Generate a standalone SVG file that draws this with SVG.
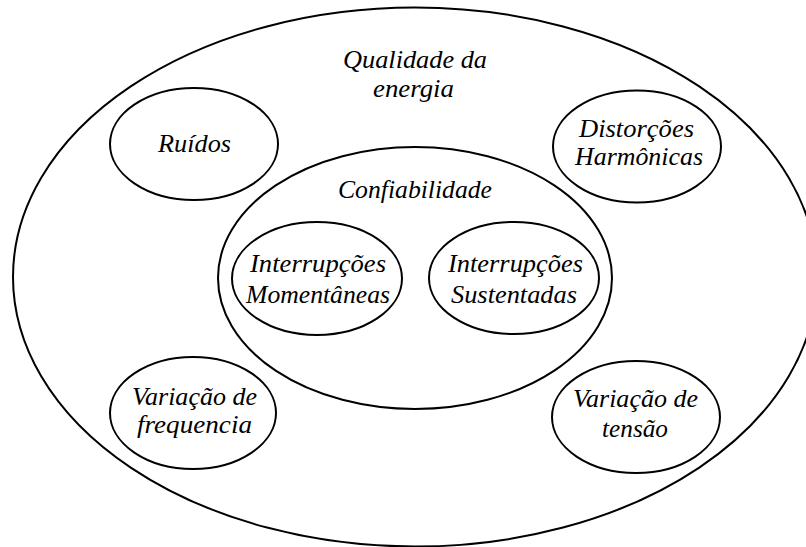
<svg xmlns="http://www.w3.org/2000/svg" width="806" height="547" viewBox="0 0 806 547">
<style>
.e{fill:none;stroke:#000;stroke-width:2}
</style>
<rect width="806" height="547" fill="#fff"/>
<g font-family="'Liberation Serif', 'DejaVu Serif', 'Times New Roman', Times, serif" font-style="italic" font-size="26" fill="#000" text-anchor="middle">
<g id="qualidade">
<ellipse class="e" cx="415" cy="277" rx="402" ry="269.5"/>
<text x="415" y="68" textLength="144" lengthAdjust="spacingAndGlyphs">Qualidade da</text>
<text x="413.5" y="97" textLength="81" lengthAdjust="spacingAndGlyphs">energia</text>
</g>
<g id="ruidos">
<ellipse class="e" cx="194" cy="144" rx="84" ry="56"/>
<text x="194.5" y="152" textLength="73" lengthAdjust="spacingAndGlyphs">Ruídos</text>
</g>
<g id="distorcoes">
<ellipse class="e" cx="637" cy="146.5" rx="84" ry="56"/>
<text x="636.5" y="137" textLength="115" lengthAdjust="spacingAndGlyphs">Distorções</text>
<text x="639" y="165" textLength="128" lengthAdjust="spacingAndGlyphs">Harmônicas</text>
</g>
<g id="confiabilidade">
<ellipse class="e" cx="415" cy="278" rx="197" ry="131"/>
<text x="415" y="198" textLength="154" lengthAdjust="spacingAndGlyphs">Confiabilidade</text>
</g>
<g id="momentaneas">
<ellipse class="e" cx="317" cy="278.5" rx="85" ry="56.5"/>
<text x="318" y="272" textLength="136" lengthAdjust="spacingAndGlyphs">Interrupções</text>
<text x="318" y="303" textLength="144" lengthAdjust="spacingAndGlyphs">Momentâneas</text>
</g>
<g id="sustentadas">
<ellipse class="e" cx="514" cy="278" rx="85" ry="56"/>
<text x="515.5" y="272" textLength="135" lengthAdjust="spacingAndGlyphs">Interrupções</text>
<text x="514" y="303" textLength="126" lengthAdjust="spacingAndGlyphs">Sustentadas</text>
</g>
<g id="frequencia">
<ellipse class="e" cx="193" cy="413" rx="83" ry="56"/>
<text x="194.5" y="405" textLength="125" lengthAdjust="spacingAndGlyphs">Variação de</text>
<text x="194.5" y="433" textLength="115" lengthAdjust="spacingAndGlyphs">frequencia</text>
</g>
<g id="tensao">
<ellipse class="e" cx="636" cy="417" rx="84" ry="56"/>
<text x="635.5" y="407" textLength="125" lengthAdjust="spacingAndGlyphs">Variação de</text>
<text x="635" y="437" textLength="66" lengthAdjust="spacingAndGlyphs">tensão</text>
</g>
</g>
<g id="connectors"></g>
</svg>
